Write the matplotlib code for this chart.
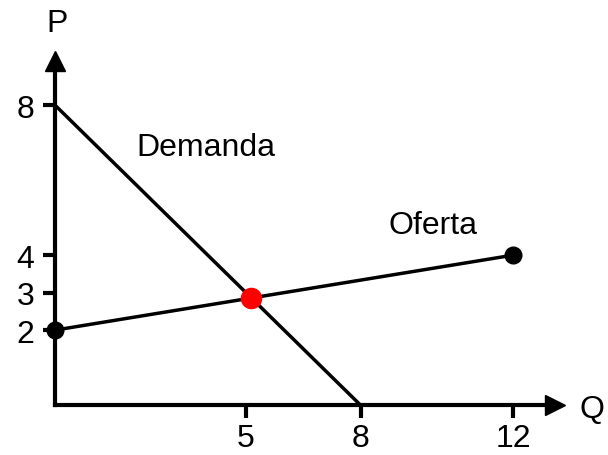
import matplotlib.pyplot as plt

plt.rcParams['font.family'] = ['Liberation Sans', 'DejaVu Sans']

# demand and supply curves
demand_q = [0, 8]
demand_p = [8, 0]
supply_q = [0, 12]
supply_p = [2, 4]
eq_q, eq_p = 36 / 7, 20 / 7

xticks = [5, 8, 12]
yticks = [2, 3, 4, 8]

fig = plt.figure(figsize=(6.08, 4.56), dpi=100)
ax = fig.add_axes([0, 0, 1, 1])
ax.set_xlim(-1.44, 14.48)
ax.set_ylim(-1.33, 10.83)

for s in ['top', 'right']:
    ax.spines[s].set_visible(False)
ax.spines['left'].set_position(('data', 0))
ax.spines['bottom'].set_position(('data', 0))
ax.spines['left'].set_bounds(0, 9.17)
ax.spines['bottom'].set_bounds(0, 13.1)
ax.spines['left'].set_linewidth(3)
ax.spines['bottom'].set_linewidth(3)
ax.spines['left'].set_capstyle('projecting')
ax.spines['bottom'].set_capstyle('projecting')

# arrow heads
ax.plot(0, 9.17, '^', color='black', ms=14, clip_on=False)
ax.plot(13.1, 0, '>', color='black', ms=14, clip_on=False)

ax.set_xticks(xticks)
ax.set_yticks(yticks)
ax.tick_params(direction='out', length=9, width=3, labelsize=23)
ax.tick_params(axis='y', pad=6)
ax.tick_params(axis='x', pad=4)

ax.plot(demand_q, demand_p, color='black', lw=2.5, solid_capstyle='butt')
ax.plot(supply_q, supply_p, color='black', lw=2.5)
ax.plot(supply_q, supply_p, 'o', color='black', ms=12, clip_on=False, zorder=5)
ax.plot(eq_q, eq_p, 'o', color='red', ms=14.5, zorder=6)

ax.text(0.05, 10.19, 'P', fontsize=23, ha='center', va='center')
ax.text(14.06, -0.1, 'Q', fontsize=23, ha='center', va='center')
ax.text(3.95, 6.88, 'Demanda', fontsize=23, ha='center', va='center')
ax.text(9.9, 4.8, 'Oferta', fontsize=23, ha='center', va='center')

fig.savefig('out.png', dpi=100)
